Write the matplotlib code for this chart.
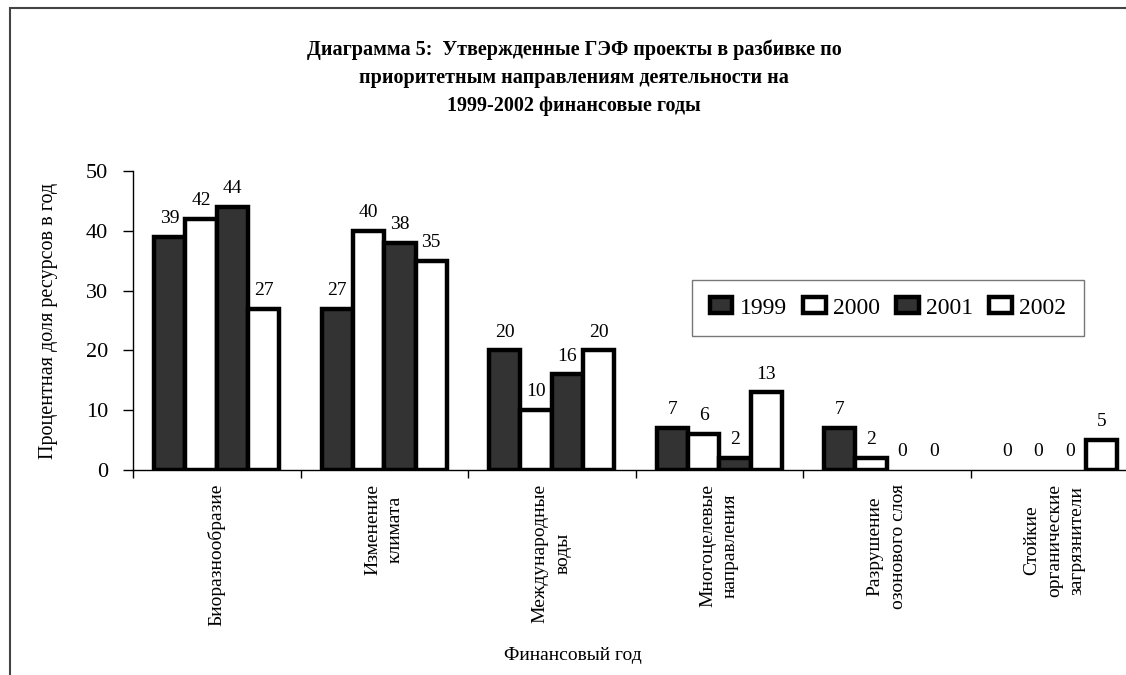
import matplotlib
matplotlib.use('Agg')
import matplotlib.pyplot as plt
import numpy as np
from matplotlib.patches import Rectangle

categories = ['Биоразнообразие', 'Изменение\nклимата', 'Международные\nводы',
              'Многоцелевые\nнаправления', 'Разрушение\nозонового слоя',
              'Стойкие\nорганические\nзагрязнители']
years = ['1999', '2000', '2001', '2002']
v1999 = [39, 27, 20, 7, 7, 0]
v2000 = [42, 40, 10, 6, 2, 0]
v2001 = [44, 38, 16, 2, 0, 0]
v2002 = [27, 35, 20, 13, 0, 5]

series = [v1999, v2000, v2001, v2002]
fills = ['#333333', 'white', '#333333', 'white']

serif = ['Liberation Serif', 'DejaVu Serif']

fig = plt.figure(figsize=(11.26, 6.75), dpi=100)
# outer frame (cut off at right and bottom like the original)
fig.patches.append(Rectangle((10 / 1126, -0.1), 1.2, 1 - 8 / 675 + 0.1,
                             transform=fig.transFigure, fill=False,
                             edgecolor='#444444', linewidth=1.5))

ax = fig.add_axes([133 / 1126, 1 - 470 / 675, 1005 / 1126, 299 / 675])

x = np.arange(len(categories))
w = 0.187
for i, (vals, fc) in enumerate(zip(series, fills)):
    pos = x + (i - 1.5) * w
    lws = [3.2 if v > 0 else 0 for v in vals]
    ax.bar(pos, vals, w, color=fc, edgecolor='black', linewidth=lws,
           label=years[i], zorder=3)
    for xp, v in zip(pos, vals):
        ax.annotate(str(v), (xp, v), xytext=(0, 7), textcoords='offset points',
                    ha='center', va='bottom', fontsize=14, family=serif)

ax.set_xlim(-0.5, len(categories) - 0.5)
ax.set_ylim(0, 50)
ax.set_yticks(range(0, 51, 10))
ax.tick_params(axis='y', direction='out', length=7, width=1, labelsize=16,
               pad=11)
for t in ax.get_yticklabels():
    t.set_family(serif)

ax.set_xticks(x)
ax.set_xticklabels(categories, rotation=90, fontsize=14, family=serif,
                   va='top', ha='center', linespacing=1.45)
ax.tick_params(axis='x', length=0, pad=10)
ax.set_xticks(np.arange(-0.5, len(categories)), minor=True)
ax.tick_params(axis='x', which='minor', direction='out', length=6, width=1)

for s in ['top', 'right']:
    ax.spines[s].set_visible(False)
ax.spines['left'].set_linewidth(1)
ax.spines['bottom'].set_linewidth(1)

ax.set_ylabel('Процентная доля ресурсов в год', fontsize=14.5, family=serif,
              labelpad=20)

fig.text(574 / 1126, 1 - 39 / 675,
         'Диаграмма 5:  Утвержденные ГЭФ проекты в разбивке по\n'
         'приоритетным направлениям деятельности на\n'
         '1999-2002 финансовые годы',
         ha='center', va='top', fontsize=14.5, fontweight='bold', family=serif,
         linespacing=1.55)
fig.text(573 / 1126, 1 - 655 / 675, 'Финансовый год', ha='center',
         va='center', fontsize=14, family=serif)

leg = ax.legend(loc='center', bbox_to_anchor=(888 / 1126, 1 - 308 / 675),
                bbox_transform=fig.transFigure, ncol=4, frameon=True,
                fancybox=False, edgecolor='#555555', handlelength=0.95,
                handleheight=0.65, handletextpad=0.3, columnspacing=0.7,
                borderpad=0.75, prop={'family': serif, 'size': 17})
leg.get_frame().set_linewidth(1)

fig.savefig('out.png', dpi=100)
